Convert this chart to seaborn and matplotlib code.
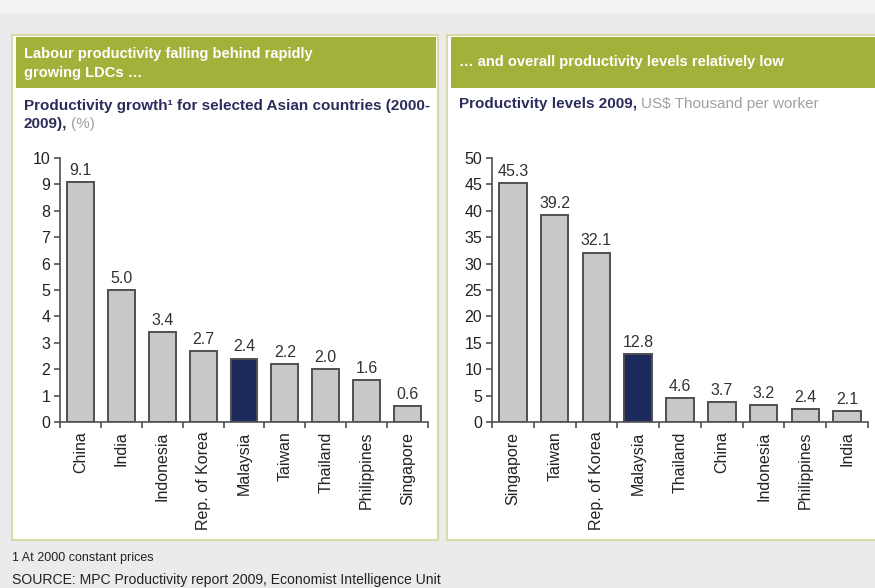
import matplotlib
matplotlib.use("Agg")
import matplotlib.pyplot as plt
from matplotlib.patches import Rectangle
import seaborn as sns
import pandas as pd

# Data
growth_countries = ["China", "India", "Indonesia", "Rep. of Korea", "Malaysia",
                    "Taiwan", "Thailand", "Philippines", "Singapore"]
growth_values = [9.1, 5.0, 3.4, 2.7, 2.4, 2.2, 2.0, 1.6, 0.6]

level_countries = ["Singapore", "Taiwan", "Rep. of Korea", "Malaysia", "Thailand",
                   "China", "Indonesia", "Philippines", "India"]
level_values = [45.3, 39.2, 32.1, 12.8, 4.6, 3.7, 3.2, 2.4, 2.1]

highlight = "Malaysia"

BG = "#ebebeb"
GREEN = "#a3b03a"
NAVY = "#1c2a5e"
BAR_GREY = "#c8c8c8"
EDGE = "#505050"
SUB_NAVY = "#2b2d5c"
LIGHT_TXT = "#a0a0a0"
BORDER = "#d8daa8"

sns.set_theme(style="white")
plt.rcParams["font.family"] = ["Liberation Sans", "DejaVu Sans"]

W, H = 875, 588
fig = plt.figure(figsize=(W / 100, H / 100), dpi=100, facecolor=BG)


def px(x, y):
    # pixel (top-left origin) -> figure fraction
    return x / W, 1 - y / H


# lighter strip at the very top
fig.patches.append(Rectangle((0, 1 - 14 / H), 1, 14 / H, transform=fig.transFigure,
                             facecolor="#f3f3f3", edgecolor="none", zorder=-3))


def panel(x0, x1, y0, y1):
    fig.patches.append(Rectangle((x0 / W, 1 - y1 / H), (x1 - x0) / W, (y1 - y0) / H,
                                 transform=fig.transFigure, facecolor="white",
                                 edgecolor=BORDER, linewidth=1.5, zorder=-2))
    fig.patches.append(Rectangle(((x0 + 4) / W, 1 - 88 / H), (x1 - x0 - 6) / W, 51 / H,
                                 transform=fig.transFigure, facecolor=GREEN,
                                 edgecolor="none", zorder=-1))


panel(12, 438, 35, 540)
panel(447, 880, 35, 540)


def draw_bars(ax, cats, vals, ymax, step):
    df = pd.DataFrame({"country": cats, "value": vals})
    pal = {c: (NAVY if c == highlight else BAR_GREY) for c in cats}
    sns.barplot(data=df, x="country", y="value", hue="country", palette=pal,
                order=cats, hue_order=cats, legend=False, width=0.66,
                edgecolor=EDGE, linewidth=1.4, saturation=1, ax=ax)
    for cont in ax.containers:
        ax.bar_label(cont, fmt="%.1f", padding=3, fontsize=11.5, color="#333333")
    ax.set_xlim(-0.5, len(cats) - 0.5)
    ax.set_ylim(0, ymax)
    ax.set_yticks(range(0, ymax + 1, step))
    ax.set_xticks([i - 0.5 for i in range(len(cats) + 1)], minor=True)
    ax.tick_params(axis="x", which="major", length=0, pad=7, labelrotation=90,
                   labelsize=11.5, labelcolor="#222222")
    ax.tick_params(axis="x", which="minor", length=4, width=1.2, color=EDGE,
                   direction="out", bottom=True)
    ax.tick_params(axis="y", length=4, width=1.2, color=EDGE, direction="out",
                   left=True, labelsize=11.5, labelcolor="#222222", pad=3)
    for s in ["top", "right"]:
        ax.spines[s].set_visible(False)
    for s in ["left", "bottom"]:
        ax.spines[s].set_color(EDGE)
        ax.spines[s].set_linewidth(1.2)
    ax.set_xlabel("")
    ax.set_ylabel("")
    ax.set_facecolor("none")


ax1 = fig.add_axes([60 / W, 1 - 422 / H, 368 / W, 264 / H])
draw_bars(ax1, growth_countries, growth_values, 10, 1)

ax2 = fig.add_axes([492 / W, 1 - 422 / H, 376 / W, 264 / H])
draw_bars(ax2, level_countries, level_values, 50, 5)

# header texts
hdr = dict(color="white", fontsize=10.5, fontweight="bold", va="center", ha="left")
fig.text(*px(24, 54), "Labour productivity falling behind rapidly", **hdr)
fig.text(*px(24, 73), "growing LDCs \u2026", **hdr)
fig.text(*px(459, 62), "\u2026 and overall productivity levels relatively low", **hdr)

renderer = fig.canvas.get_renderer()


def two_tone(x, y, dark, light):
    t = fig.text(*px(x, y), dark, color=SUB_NAVY, fontsize=11, fontweight="bold",
                 va="center", ha="left")
    bb = t.get_window_extent(renderer)
    fig.text(bb.x1 / W + 4 / W, px(x, y)[1], light, color=LIGHT_TXT, fontsize=11,
             va="center", ha="left")


fig.text(*px(24, 106), "Productivity growth\u00b9 for selected Asian countries (2000-",
         color=SUB_NAVY, fontsize=11, fontweight="bold", va="center", ha="left")
two_tone(24, 124, "2009),", "(%)")
two_tone(459, 104, "Productivity levels 2009,", "US$ Thousand per worker")

# footnotes
fig.text(*px(12, 558), "1 At 2000 constant prices", fontsize=9, color="#222222",
         va="center", ha="left")
fig.text(*px(12, 580), "SOURCE: MPC Productivity report 2009, Economist Intelligence Unit",
         fontsize=10.1, color="#222222", va="center", ha="left")

fig.savefig("out.png", dpi=100, facecolor=BG)
